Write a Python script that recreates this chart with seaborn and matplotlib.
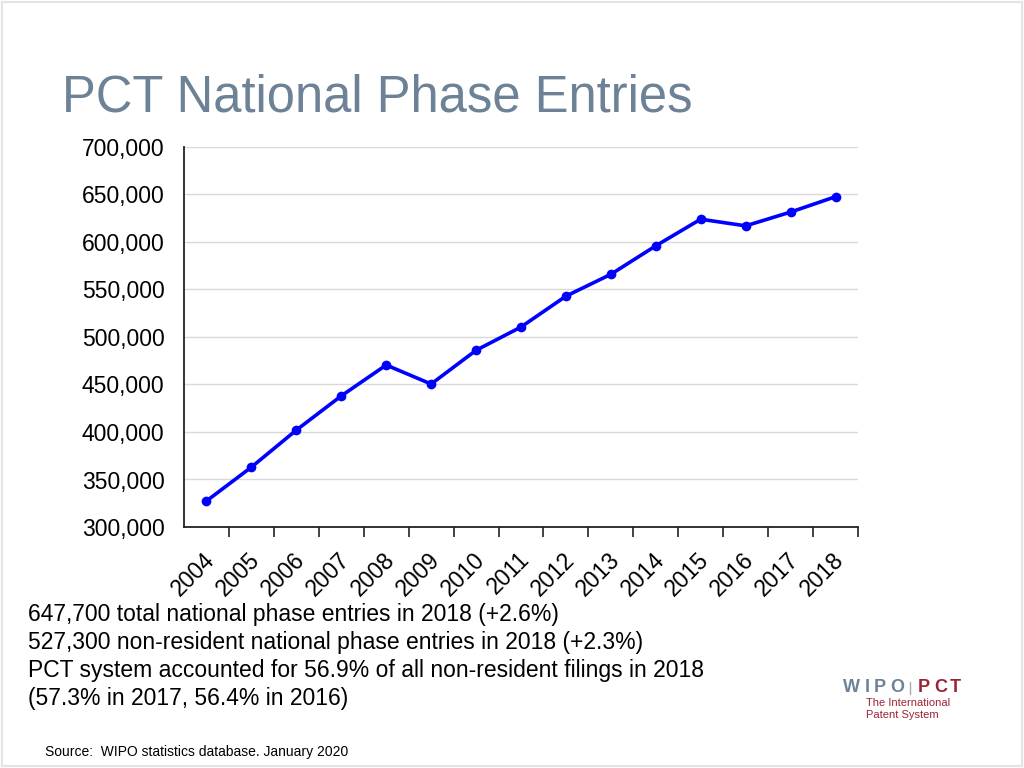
import matplotlib
matplotlib.use("Agg")
import matplotlib.pyplot as plt
import matplotlib.transforms as mtransforms
from matplotlib.ticker import FuncFormatter, FixedLocator
import seaborn as sns
import pandas as pd

# --- data ---
years = ["2004", "2005", "2006", "2007", "2008", "2009", "2010", "2011",
         "2012", "2013", "2014", "2015", "2016", "2017", "2018"]
entries = [327400, 363000, 402000, 438000, 470500, 450500, 486000, 510500,
           543000, 566000, 596000, 624000, 617000, 631500, 647700]

title = "PCT National Phase Entries"
notes = [
    "647,700 total national phase entries in 2018 (+2.6%)",
    "527,300 non-resident national phase entries in 2018 (+2.3%)",
    "PCT system accounted for 56.9% of all non-resident filings in 2018",
    "(57.3% in 2017, 56.4% in 2016)",
]
source = "Source:  WIPO statistics database. January 2020"

TITLE_COLOR = "#6d8296"
RED = "#9b2335"

sns.set_theme(style="white")
plt.rcParams['font.family'] = ['Liberation Sans', 'DejaVu Sans']
plt.rcParams['text.color'] = 'black'
plt.rcParams['xtick.color'] = 'black'
plt.rcParams['ytick.color'] = 'black'

df = pd.DataFrame({"year": years, "entries": entries})
df["pos"] = range(len(df))

fig = plt.figure(figsize=(10.24, 7.68), dpi=100)
ax = fig.add_axes([184 / 1024, 1 - 527 / 768, (858 - 184) / 1024, (527 - 147) / 768])

sns.lineplot(data=df, x="pos", y="entries", ax=ax, color="#0000ff",
             linewidth=2.6, marker="o", markersize=7, markeredgewidth=0)

ax.set_xlim(-0.5, len(years) - 0.5)
ax.set_ylim(300000, 700000)
ax.set_yticks(range(300000, 700001, 50000))
ax.yaxis.set_major_formatter(FuncFormatter(lambda v, p: f"{int(v):,}"))
ax.tick_params(axis="y", length=0, pad=14, labelsize=16.5)
ax.yaxis.grid(True, color="#d9d9d9", linewidth=1)
ax.xaxis.grid(False)

# category labels at centres, tick marks at boundaries
ax.set_xticks(range(len(years)))
ax.set_xticklabels(years, rotation=45, ha="right", va="center",
                   rotation_mode="anchor", fontsize=16.5)
ax.tick_params(axis="x", which="major", length=0, pad=21)
ax.xaxis.set_minor_locator(FixedLocator([i + 0.5 for i in range(len(years))]))
ax.tick_params(axis="x", which="minor", length=7, width=1.2, direction="out",
               color="#222222", bottom=True)
offset = mtransforms.ScaledTranslation(5 / 100, 0, fig.dpi_scale_trans)
for lbl in ax.get_xticklabels():
    lbl.set_transform(lbl.get_transform() + offset)

ax.set_xlabel("")
ax.set_ylabel("")
for side in ["top", "right"]:
    ax.spines[side].set_visible(False)
for side in ["left", "bottom"]:
    ax.spines[side].set_color("#222222")
    ax.spines[side].set_linewidth(1.3)

# title and text blocks
fig.text(62 / 1024, 1 - 98 / 768, title, fontsize=36.5, color=TITLE_COLOR,
         ha="left", va="center")
for i, line in enumerate(notes):
    fig.text(28 / 1024, 1 - (614 + 28 * i) / 768, line, fontsize=16.5,
             ha="left", va="center")
fig.text(45 / 1024, 1 - 752 / 768, source, fontsize=10,
         ha="left", va="center")

# WIPO | PCT logo, letter-spaced
for ch, x in zip("WIPO", [843, 865, 874, 890]):
    fig.text(x / 1024, 1 - 688 / 768, ch, fontsize=13, fontweight="bold",
             color=TITLE_COLOR, ha="left", va="center")
fig.add_artist(plt.Line2D([910 / 1024, 910 / 1024],
                          [1 - 682 / 768, 1 - 694 / 768],
                          color="#aaaaaa", linewidth=1,
                          transform=fig.transFigure))
for ch, x in zip("PCT", [918, 934, 950]):
    fig.text(x / 1024, 1 - 688 / 768, ch, fontsize=13, fontweight="bold",
             color=RED, ha="left", va="center")
fig.text(866 / 1024, 1 - 703 / 768, "The International", fontsize=8,
         color=RED, ha="left", va="center")
fig.text(866 / 1024, 1 - 715 / 768, "Patent System", fontsize=8,
         color=RED, ha="left", va="center")

# light slide border
fig.patches.append(plt.Rectangle((0.002, 0.002), 0.996, 0.996, fill=False,
                                 edgecolor="#e4e4e4", linewidth=1.5,
                                 transform=fig.transFigure))

fig.savefig("out.png", dpi=100, facecolor="white")
